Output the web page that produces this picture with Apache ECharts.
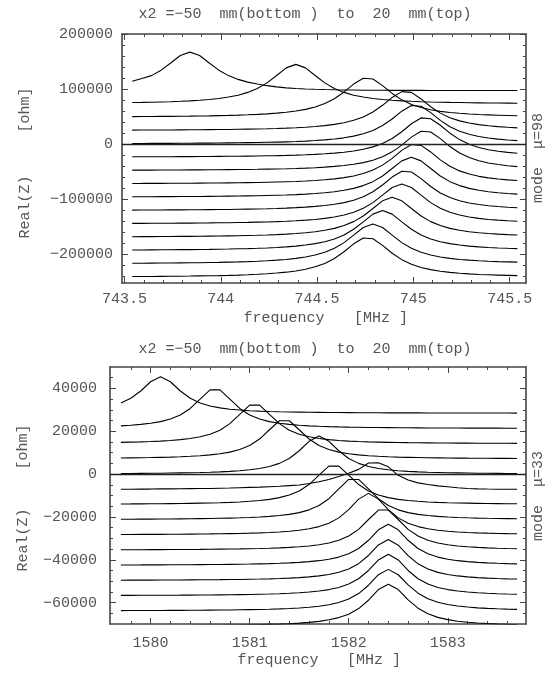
<!DOCTYPE html>
<html>
<head>
<meta charset="utf-8">
<script src="https://cdn.jsdelivr.net/npm/echarts@6/dist/echarts.min.js"></script>
<style>
html,body{margin:0;padding:0;background:#fff;}
#chart{width:554px;height:673px;}
</style>
</head>
<body>
<div id="chart"></div>
<script>
// ---------------- TOP PANEL (mode mu=98) ----------------
const topFreq = [743.54,743.59,743.64,743.69,743.74,743.79,743.84,743.89,743.94,743.99,744.04,744.09,744.14,744.19,744.24,744.29,744.34,744.39,744.44,744.49,744.54,744.59,744.64,744.69,744.74,744.79,744.84,744.89,744.94,744.99,745.04,745.09,745.14,745.19,745.24,745.29,745.34,745.39,745.44,745.49,745.54];
const topXLabels = [743.5, 744, 744.5, 745, 745.5];
const topXMinor = [743.6,743.7,743.8,743.9,744.1,744.2,744.3,744.4,744.6,744.7,744.8,744.9,745.1,745.2,745.3,745.4];
const topYLabels = [-200000, -100000, 0, 100000, 200000];
const topYMinor = [-240000,-220000,-180000,-160000,-140000,-120000,-80000,-60000,-40000,-20000,20000,40000,60000,80000,120000,140000,160000,180000];
// x2 positions (mm), top curve first, and the vertical offset of each trace (ohm)
const x2List = [20, 15, 10, 5, 0, -5, -10, -15, -20, -25, -30, -35, -40, -45, -50];
const topOffsets = [97000, 72750, 48500, 24250, 0, -24250, -48500, -72750, -97000, -121250, -145500, -169750, -194000, -218250, -242500];
// Real(Z) above each trace's offset (ohm)
const top_x2_20  = [17000,22000,27300,37200,50300,63800,70000,63800,50300,37200,27300,20400,15500,12100,9000,6800,5000,3800,3000,2400,1900,1500,1200,1000,800,700,600,500,500,400,400,300,300,300,200,200,200,200,100,100,100];
const top_x2_15  = [2500,2800,3200,3600,4100,4800,5600,6700,8000,9900,12500,15900,21000,28100,38300,51800,65600,72000,65600,51800,38300,28100,21000,15900,12500,9900,8000,6700,5600,4800,4100,3600,3200,2800,2500,2200,2000,1800,1600,1500,1400];
const top_x2_10  = [1200,1300,1450,1600,1700,1900,2100,2400,2600,3000,3400,3900,4500,5300,6200,7500,9100,11300,14400,18700,24900,33800,46100,60400,70900,69600,57600,43400,31700,23400,17700,13700,10800,8800,7200,6000,5100,4400,3800,3300,2900];
const top_x2_5   = [900,970,1040,1120,1220,1330,1440,1580,1730,1880,2080,2380,2670,2970,3370,3860,4460,5250,6240,7520,9110,11300,14400,18700,24900,33900,46000,60400,70900,69500,57600,43400,31800,23500,17700,13700,10900,8800,7200,6000,5000];
const top_x2_0   = [830,890,960,1030,1100,1200,1310,1420,1560,1710,1860,2050,2340,2640,2930,3320,3810,4400,5180,6150,7420,8990,11100,14200,18500,24600,33400,45400,59600,70000,68600,56900,42800,31400,23200,17500,13500,10700,8700,7100,6000];
const top_x2_m5  = [800,850,910,980,1050,1130,1230,1340,1450,1600,1750,1900,2100,2400,2700,3000,3400,3900,4500,5300,6300,7600,9200,11400,14500,18900,25200,34200,46500,61000,71600,70200,58200,43800,32100,23700,17900,13800,11000,8900,7300];
const top_x2_m10 = [780,840,900,970,1040,1120,1220,1330,1450,1580,1730,1900,2100,2350,2700,3000,3400,3900,4500,5300,6300,7600,9200,11400,14500,18800,25100,34100,46400,60900,71500,70100,58100,43700,32000,23700,17900,13800,11000,8900,7300];
const top_x2_m15 = [850,910,980,1050,1130,1230,1340,1450,1600,1750,1900,2100,2400,2700,3000,3400,3900,4500,5300,6300,7600,9200,11400,14500,18900,25200,34200,46500,61000,71600,70200,58200,43800,32100,23700,17900,13800,11000,8900,7300,6100];
const top_x2_m20 = [870,940,1000,1080,1160,1270,1380,1500,1650,1800,2000,2200,2500,2800,3200,3600,4100,4800,5700,6800,8100,10000,12600,16100,21200,28400,38700,52300,66200,72800,66200,52300,38700,28400,21200,16100,12600,10000,8100,6800,5700];
const top_x2_m25 = [910,980,1050,1130,1230,1340,1450,1600,1750,1900,2100,2400,2700,3000,3400,3900,4500,5300,6300,7600,9200,11400,14500,18900,25200,34200,46500,61000,71600,70200,58200,43800,32100,23700,17900,13800,11000,8900,7300,6100,5100];
const top_x2_m30 = [940,1000,1080,1160,1270,1380,1500,1650,1800,2000,2200,2500,2800,3200,3600,4100,4800,5700,6800,8100,10000,12600,16100,21200,28400,38700,52300,66200,72800,66200,52300,38700,28400,21200,16100,12600,10000,8100,6800,5700,4800];
const top_x2_m35 = [1000,1080,1160,1270,1380,1500,1650,1800,2000,2200,2500,2800,3200,3600,4100,4800,5700,6800,8100,10000,12600,16100,21200,28400,38700,52300,66200,72700,66200,52300,38700,28400,21200,16100,12600,10000,8100,6800,5700,4800,4100];
const top_x2_m40 = [1080,1160,1270,1380,1500,1650,1800,2000,2200,2500,2800,3200,3600,4100,4800,5700,6800,8100,10000,12600,16100,21200,28400,38700,52300,66300,72900,66300,52300,38700,28400,21200,16100,12600,10000,8100,6800,5700,4800,4100,3600];
const top_x2_m45 = [1160,1270,1380,1500,1650,1800,2000,2200,2500,2800,3200,3600,4100,4800,5700,6800,8100,10000,12600,16100,21200,28400,38700,52300,66200,72700,66200,52300,38700,28400,21200,16100,12600,10000,8100,6800,5700,4800,4100,3600,3200];
const top_x2_m50 = [1230,1340,1450,1600,1750,1900,2100,2400,2700,3000,3400,3900,4500,5300,6300,7600,9200,11400,14500,18900,25100,34100,46400,60800,71400,70000,58000,43700,32000,23600,17800,13800,11000,8900,7300,6100,5100,4400,3800,3300,2900];
const topCurves = [top_x2_20, top_x2_15, top_x2_10, top_x2_5, top_x2_0, top_x2_m5, top_x2_m10, top_x2_m15, top_x2_m20, top_x2_m25, top_x2_m30, top_x2_m35, top_x2_m40, top_x2_m45, top_x2_m50];

// ---------------- BOTTOM PANEL (mode mu=33) ----------------
const botFreq = [1579.7,1579.8,1579.9,1580.0,1580.1,1580.2,1580.3,1580.4,1580.5,1580.6,1580.7,1580.8,1580.9,1581.0,1581.1,1581.2,1581.3,1581.4,1581.5,1581.6,1581.7,1581.8,1581.9,1582.0,1582.1,1582.2,1582.3,1582.4,1582.5,1582.6,1582.7,1582.8,1582.9,1583.0,1583.1,1583.2,1583.3,1583.4,1583.5,1583.6,1583.7];
const botXLabels = [1580, 1581, 1582, 1583];
const botXMinor = [1579.8,1580.2,1580.4,1580.6,1580.8,1581.2,1581.4,1581.6,1581.8,1582.2,1582.4,1582.6,1582.8,1583.2,1583.4,1583.6];
const botYLabels = [-60000, -40000, -20000, 0, 20000, 40000];
const botYMinor = [-65000,-55000,-50000,-45000,-35000,-30000,-25000,-15000,-10000,-5000,5000,10000,15000,25000,30000,35000,45000];
const botOffsets = [28400, 21300, 14200, 7100, 0, -7100, -14200, -21300, -28400, -35500, -42600, -49700, -56800, -63900, -71000];
const bot_x2_20  = [4800,7000,10400,14700,17100,14700,10400,7000,4800,3400,2500,1900,1500,1200,1000,840,710,610,530,460,410,360,320,290,260,240,220,200,180,170,160,150,140,130,120,110,100,100,90,90,80];
const bot_x2_15  = [1200,1500,1900,2400,3200,4400,6300,9350,13700,18000,18000,13700,9350,6300,4400,3200,2400,1900,1500,1200,1000,840,720,620,540,470,420,370,330,300,270,250,230,210,190,180,160,150,140,130,125];
const bot_x2_10  = [620,720,840,1000,1200,1500,1900,2400,3200,4400,6300,9350,13700,18000,18000,13700,9350,6300,4400,3200,2400,1900,1500,1200,1000,840,720,620,540,470,420,370,330,300,270,250,230,210,190,180,160];
const bot_x2_5   = [410,470,530,610,710,830,990,1200,1470,1850,2400,3150,4350,6250,9250,13600,17800,17800,13600,9250,6250,4350,3150,2400,1850,1470,1200,990,830,710,610,530,470,410,370,330,300,270,250,230,210];
const bot_x2_0   = [270,300,340,380,420,480,550,640,740,870,1050,1270,1580,2010,2630,3560,5000,7300,10900,15300,17800,15300,10900,7300,5000,3560,2630,2010,1580,1270,1050,870,740,640,550,480,420,380,340,300,270];
const bot_x2_m5  = [0,0,100,100,200,200,250,300,350,400,500,600,750,900,1000,1200,1400,1700,2000,2700,3500,4600,6000,7500,9300,12300,12400,10500,6500,4300,3000,2200,1600,1200,700,400,200,100,50,0,0];
const bot_x2_m10 = [250,270,300,330,370,420,470,540,620,720,840,1000,1200,1480,1860,2400,3200,4400,6300,9300,13700,17900,17900,13700,9300,6300,4400,3200,2400,1860,1480,1200,1000,840,720,620,540,470,420,370,330];
const bot_x2_m15 = [220,240,260,290,320,350,390,440,500,570,650,750,880,1050,1270,1560,1950,2500,3300,4600,6600,9800,14400,18800,18800,14400,9800,6600,4600,3300,2500,1950,1560,1270,1050,880,750,650,570,500,440];
const bot_x2_m20 = [190,210,230,250,270,300,330,370,410,460,520,600,690,810,950,1140,1390,1730,2190,2870,3880,5450,7950,11800,16700,19400,16700,11800,7950,5450,3880,2870,2190,1730,1390,1140,950,810,690,600,520];
const bot_x2_m25 = [170,185,200,220,240,260,290,320,350,390,440,490,560,650,750,880,1040,1260,1550,1950,2500,3300,4600,6600,9700,14300,18700,18700,14300,9700,6600,4600,3300,2500,1950,1550,1260,1040,880,750,650];
const bot_x2_m30 = [160,180,190,210,220,240,270,300,330,360,410,460,520,590,690,800,940,1130,1370,1710,2170,2840,3840,5400,7870,11700,16600,19200,16600,11700,7870,5400,3840,2840,2170,1710,1370,1130,940,800,690];
const bot_x2_m35 = [150,170,190,200,220,240,260,290,330,360,400,450,510,590,680,790,930,1120,1360,1700,2160,2830,3830,5400,7880,11700,16600,19200,16500,11600,7800,5350,3800,2820,2150,1700,1360,1120,930,790,680];
const bot_x2_m40 = [170,180,200,210,230,250,270,300,340,370,420,470,530,600,700,810,950,1140,1390,1730,2190,2870,3880,5450,7950,11800,16700,19400,16700,11800,7950,5450,3880,2870,2190,1730,1390,1140,950,810,700];
const bot_x2_m45 = [160,180,190,210,230,250,270,300,330,370,410,460,520,600,690,800,950,1140,1400,1750,2220,2920,3950,5550,8100,12000,16900,19400,16900,12200,8300,5700,4050,3000,2290,1810,1450,1190,990,840,720];
const bot_x2_m50 = [160,180,200,210,230,250,270,300,340,370,420,470,530,610,700,820,960,1150,1410,1770,2240,2950,3990,5600,8200,12100,17100,19600,17100,12300,8400,5750,4100,3030,2310,1830,1470,1200,1000,850,730];
const botCurves = [bot_x2_20, bot_x2_15, bot_x2_10, bot_x2_5, bot_x2_0, bot_x2_m5, bot_x2_m10, bot_x2_m15, bot_x2_m20, bot_x2_m25, bot_x2_m30, bot_x2_m35, bot_x2_m40, bot_x2_m45, bot_x2_m50];

// ---------------- chart ----------------
const FONT = '"Liberation Mono", "DejaVu Sans Mono", monospace';
const TXT = '#555';
const FRAME = '#444';
const fmtNum = v => (v < 0 ? '\u2212' + String(-v) : String(v));

function axisSet(kind, gridIndex, min, max, majors, minors, withLabels, labelMargin) {
  const sides = kind === 'x' ? ['bottom', 'top'] : ['left', 'right'];
  const out = [];
  sides.forEach((pos, si) => {
    // major ticks (+ frame line and labels on the primary side)
    out.push({
      type: 'value', gridIndex, position: pos, min, max,
      splitLine: { show: false },
      axisLine: { show: true, onZero: false, lineStyle: { color: FRAME, width: 1.6 } },
      axisTick: { show: true, inside: true, length: 6, customValues: majors, lineStyle: { color: FRAME, width: 1 } },
      axisLabel: si === 0 && withLabels ? {
        show: true, customValues: majors, formatter: fmtNum, color: TXT,
        fontFamily: FONT, fontSize: 15, margin: labelMargin
      } : { show: false }
    });
    // minor ticks
    out.push({
      type: 'value', gridIndex, position: pos, min, max,
      splitLine: { show: false },
      axisLine: { show: false, onZero: false },
      axisTick: { show: true, inside: true, length: 3, customValues: minors, lineStyle: { color: FRAME, width: 1 } },
      axisLabel: { show: false }
    });
  });
  return out;
}

const grids = [
  { left: 122, top: 34, width: 404, height: 249 },
  { left: 110, top: 367, width: 416, height: 257 }
];

const xAxes = [
  ...axisSet('x', 0, 743.487, 745.585, topXLabels, topXMinor, true, 9),
  ...axisSet('x', 1, 1579.59, 1583.79, botXLabels, botXMinor, true, 12)
];
const yAxes = [
  ...axisSet('y', 0, -253000, 200000, topYLabels, topYMinor, true, 9),
  ...axisSet('y', 1, -70000, 50000, botYLabels, botYMinor, true, 13)
];

const series = [];
function addPanel(freq, curves, offsets, axisIdx) {
  curves.forEach((vals, ci) => {
    const s = {
      type: 'line', xAxisIndex: axisIdx, yAxisIndex: axisIdx,
      data: freq.map((f, i) => [f, offsets[ci] + vals[i]]),
      symbol: 'none', showSymbol: false, smooth: false, clip: true,
      lineStyle: { color: '#000', width: 1.1 },
      silent: true, animation: false, z: 3
    };
    if (ci === 0) {
      s.markLine = {
        silent: true, symbol: 'none', animation: false,
        label: { show: false },
        lineStyle: { color: '#222', width: 1.3, type: 'solid' },
        data: [{ yAxis: 0 }]
      };
    }
    series.push(s);
  });
}
addPanel(topFreq, topCurves, topOffsets, 0);
addPanel(botFreq, botCurves, botOffsets, 4);

function txt(x, y, text, rot) {
  return {
    type: 'text', x, y, rotation: rot || 0, silent: true,
    style: { text, fill: TXT, font: '15px ' + FONT, textAlign: 'center', textVerticalAlign: 'middle' }
  };
}
const TITLE = 'x2 =\u221250  mm(bottom )  to  20  mm(top)';
const graphic = [
  txt(305, 14, TITLE),
  txt(305, 349, TITLE),
  txt(284, 318, 'frequency'),
  txt(381, 318, '[MHz ]'),
  txt(278, 660, 'frequency'),
  txt(374, 660, '[MHz ]'),
  txt(25, 207, 'Real(Z)', Math.PI / 2),
  txt(25, 110, '[ohm]', Math.PI / 2),
  txt(23, 540, 'Real(Z)', Math.PI / 2),
  txt(23, 447, '[ohm]', Math.PI / 2),
  txt(538, 158, 'mode  \u03bc=98', Math.PI / 2),
  txt(538, 496, 'mode  \u03bc=33', Math.PI / 2)
];

const chart = echarts.init(document.getElementById('chart'), null, { renderer: 'canvas' });
chart.setOption({
  backgroundColor: '#fff',
  animation: false,
  grid: grids,
  xAxis: xAxes,
  yAxis: yAxes,
  series,
  graphic
});
</script>
</body>
</html>
